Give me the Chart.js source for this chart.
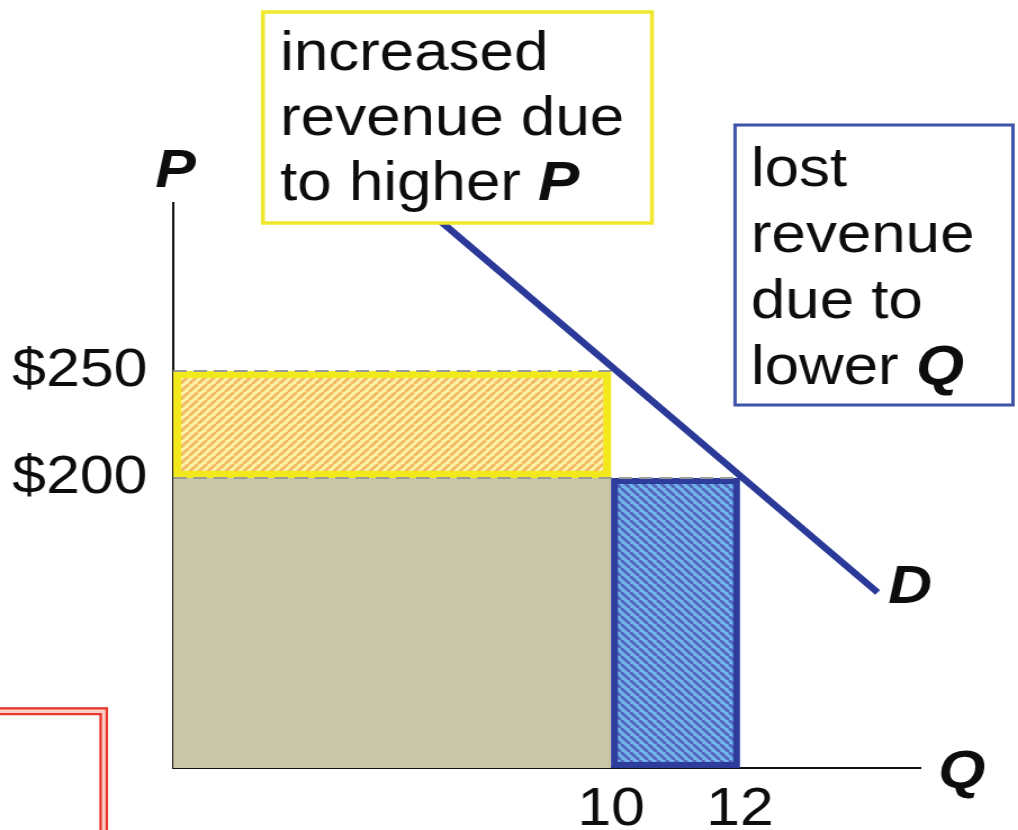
<!DOCTYPE html>
<html>
<head>
<meta charset="utf-8">
<title>Price increase: revenue effects</title>
<script src="https://cdn.jsdelivr.net/npm/chart.js@4.4.1/dist/chart.umd.min.js"></script>
<style>
  html, body { margin: 0; padding: 0; background: #fff; overflow: hidden; }
  /* the slide artwork is stretched horizontally; the stage reproduces that aspect */
  #stage { width: 905px; height: 830px; transform: scaleX(1.1249); transform-origin: 0 0; position: relative; }
</style>
</head>
<body>
<div id="stage"><canvas id="chart"></canvas></div>
<script>
// ---- data ----
const quantityTicks = [10, 12];          // Q marked on the horizontal axis
const priceTicks = [200, 250];           // P marked on the vertical axis
const quantityRange = [3.2, 14.8];       // visible span of the Q axis
const priceRange = [64.5, 328.5];        // visible span of the P axis
const demandQ = [7.27, 14.14];           // demand curve end points (Q)
const demandP = [322, 146.5];            // demand curve end points (P)
const prices = [200, 250];               // old price, new price
const quantities = [12, 10];             // old quantity, new quantity

const FONT = "'Liberation Sans', Arial, Helvetica, sans-serif";
const INK = '#0d0d0d';

// diagonal hatch tiles for the two revenue areas
function hatch(base, stripe, rising) {
  const n = 8;
  const c = document.createElement('canvas');
  c.width = n; c.height = n;
  const g = c.getContext('2d');
  g.fillStyle = base;
  g.fillRect(0, 0, n, n);
  g.strokeStyle = stripe;
  g.lineWidth = 2.8;
  g.beginPath();
  for (let k = -1; k <= 1; k++) {
    if (rising) { g.moveTo(k * n, n); g.lineTo(k * n + n, 0); }
    else { g.moveTo(k * n, 0); g.lineTo(k * n + n, n); }
  }
  g.stroke();
  return g.createPattern(c, 'repeat');
}

const [oldP, newP] = prices;
const [oldQ, newQ] = quantities;
const [qMin, qMax] = quantityRange;
const [pMin, pMax] = priceRange;

const pts = (qs, ps) => qs.map((q, i) => ({ x: q, y: ps[i] }));

// outlines of the two hatched areas, drawn right after the last area fill
const outlinePlugin = {
  id: 'areaOutlines',
  afterDatasetDraw(chart, args) {
    if (chart.data.datasets[args.index].id !== 'lost') return;
    const { ctx } = chart;
    const xs = chart.scales.x, ys = chart.scales.y;
    const box = (q0, q1, p0, p1, color, w) => {
      const l = xs.getPixelForValue(q0), r = xs.getPixelForValue(q1);
      const t = ys.getPixelForValue(p1), b = ys.getPixelForValue(p0);
      ctx.save();
      ctx.strokeStyle = color;
      ctx.lineWidth = w;
      ctx.strokeRect(l + w / 2, t + w / 2, r - l - w, b - t - w);
      ctx.restore();
    };
    box(qMin, newQ, oldP, newP, '#f1e91b', 7);
    box(newQ, oldQ, pMin, oldP, '#2e3d9c', 6);
  }
};

// labels and call-out boxes
const notesPlugin = {
  id: 'notes',
  afterDraw(chart) {
    const { ctx } = chart;
    const regular = `55px ${FONT}`;
    const strong = `italic bold 55px ${FONT}`;
    const runs = (parts, x, y) => {
      let cx = x;
      for (const [txt, bold] of parts) {
        ctx.font = bold ? strong : regular;
        ctx.fillText(txt, cx, y);
        cx += ctx.measureText(txt).width;
      }
    };
    ctx.save();
    ctx.textBaseline = 'alphabetic';
    ctx.textAlign = 'left';

    // call-out: gain from the higher price
    ctx.fillStyle = '#fff';
    ctx.fillRect(233.8, 12, 345.8, 211);
    ctx.strokeStyle = '#efe82c';
    ctx.lineWidth = 3.5;
    ctx.strokeRect(233.8, 12, 345.8, 211);
    ctx.fillStyle = INK;
    runs([['increased', false]], 249, 70);
    runs([['revenue due', false]], 249, 135);
    runs([['to higher ', false], ['P', true]], 249, 200);

    // call-out: loss from the lower quantity
    ctx.fillStyle = '#fff';
    ctx.fillRect(653.4, 125, 247.1, 280);
    ctx.strokeStyle = '#3f54a8';
    ctx.lineWidth = 3;
    ctx.strokeRect(653.4, 125, 247.1, 280);
    ctx.fillStyle = INK;
    runs([['lost', false]], 667.5, 186);
    runs([['revenue', false]], 667.5, 252);
    runs([['due to', false]], 667.5, 318);
    runs([['lower ', false], ['Q', true]], 667.5, 384);

    // axis names and curve label
    ctx.font = `italic bold 54px ${FONT}`;
    ctx.fillText('P', 138, 187);
    ctx.fillText('Q', 834, 788);
    ctx.fillText('D', 789.5, 603);

    // corner of the neighbouring frame
    ctx.lineJoin = 'miter';
    ctx.strokeStyle = '#fbd2ca';
    ctx.lineWidth = 8;
    ctx.beginPath(); ctx.moveTo(-10, 711); ctx.lineTo(92.2, 711); ctx.lineTo(92.2, 840); ctx.stroke();
    ctx.strokeStyle = '#e8342c';
    ctx.lineWidth = 2.2;
    ctx.beginPath(); ctx.moveTo(-10, 708.3); ctx.lineTo(94.9, 708.3); ctx.lineTo(94.9, 840); ctx.stroke();
    ctx.beginPath(); ctx.moveTo(-10, 714.2); ctx.lineTo(89.5, 714.2); ctx.lineTo(89.5, 840); ctx.stroke();
    ctx.restore();
  }
};

const clear = 'rgba(0,0,0,0)';

new Chart(document.getElementById('chart'), {
  type: 'line',
  data: {
    datasets: [
      {
        id: 'demand', label: 'D',
        data: pts(demandQ, demandP),
        borderColor: '#2b3a98', borderWidth: 6.5,
        pointRadius: 0, fill: false, order: 0
      },
      {
        id: 'guideNew', label: 'new price',
        data: pts([qMin, newQ], [newP, newP]),
        borderColor: '#9a9a9a', borderWidth: 2, borderDash: [12, 6],
        pointRadius: 0, fill: false, order: 1
      },
      {
        id: 'guideOld', label: 'old price',
        data: pts([qMin, oldQ], [oldP, oldP]),
        borderColor: '#9a9a9a', borderWidth: 2, borderDash: [12, 6],
        pointRadius: 0, fill: false, order: 1
      },
      {
        id: 'lost', label: 'lost revenue',
        data: pts([newQ, oldQ], [oldP, oldP]),
        borderColor: clear, borderWidth: 0, pointRadius: 0,
        backgroundColor: hatch('#70b8ec', '#5564bd', false),
        fill: 'start', order: 3
      },
      {
        id: 'gain', label: 'increased revenue',
        data: pts([qMin, newQ], [newP, newP]),
        borderColor: clear, borderWidth: 0, pointRadius: 0,
        backgroundColor: hatch('#fbf3a6', '#f4b862', true),
        fill: { value: oldP }, order: 4
      },
      {
        id: 'kept', label: 'revenue kept',
        data: pts([qMin, newQ], [oldP, oldP]),
        borderColor: clear, borderWidth: 0, pointRadius: 0,
        backgroundColor: '#c8c6a7',
        fill: 'start', order: 5
      }
    ]
  },
  options: {
    responsive: true,
    maintainAspectRatio: false,
    animation: false,
    events: [],
    layout: { padding: { top: 203, right: 87, bottom: 0, left: 0 } },
    plugins: { legend: { display: false }, tooltip: { enabled: false } },
    scales: {
      x: {
        type: 'linear',
        min: qMin, max: qMax,
        afterBuildTicks: s => { s.ticks = quantityTicks.map(v => ({ value: v })); },
        afterFit: s => { s.height = 62; },
        ticks: {
          color: INK, padding: 10, maxRotation: 0, autoSkip: false,
          font: { family: FONT, size: 54 },
          callback: v => String(v)
        },
        grid: { display: false, drawTicks: false },
        border: { display: true, color: '#111', width: 2 },
        z: 1
      },
      y: {
        type: 'linear',
        min: pMin, max: pMax,
        afterBuildTicks: s => { s.ticks = priceTicks.map(v => ({ value: v })); },
        afterFit: s => { s.width = 154; },
        ticks: {
          color: INK, padding: 23, autoSkip: false,
          font: { family: FONT, size: 54 },
          callback: v => '$' + v
        },
        grid: { display: false, drawTicks: false },
        border: { display: true, color: '#111', width: 2 },
        z: 1
      }
    }
  },
  plugins: [outlinePlugin, notesPlugin]
});
</script>
</body>
</html>
